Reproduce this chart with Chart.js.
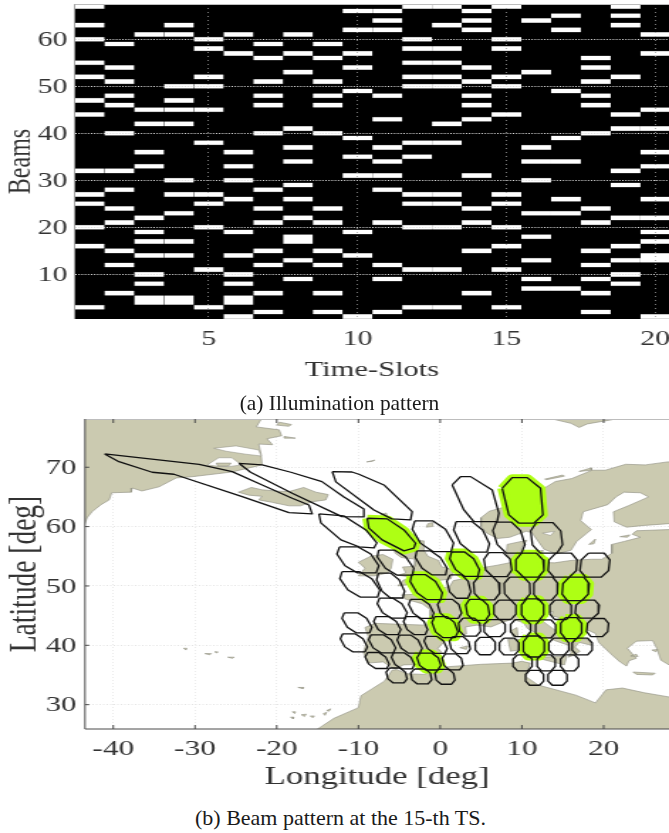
<!DOCTYPE html>
<html>
<head>
<meta charset="utf-8">
<title>Illumination and beam pattern</title>
<script src="https://cdn.jsdelivr.net/npm/chart.js@4/dist/chart.umd.min.js"></script>
<style>
  html, body { margin: 0; padding: 0; background: #fff; }
  body { position: relative; width: 669px; height: 833px; overflow: hidden; }
  canvas { position: absolute; left: 0; transform-origin: 0 0; transform: scale(1.4204, 1); filter: blur(0.3px); }
  #chartA { top: 0; }
  #chartB { top: 400px; }
  .caption { position: absolute; width: 669px; text-align: center; color: #1a1a1a;
             font-family: "Liberation Serif", serif; }
  #capA { top: 391px; left: 5px; font-size: 21.4px; }
  #capB { top: 805px; left: 6px; font-size: 22px; }
</style>
</head>
<body>
<canvas id="chartA" width="471" height="385"></canvas>
<canvas id="chartB" width="471" height="392"></canvas>
<div class="caption" id="capA">(a) Illumination pattern</div>
<div class="caption" id="capB">(b) Beam pattern at the 15-th TS.</div>
<script>
// ---- panel (a): beams lit in each time slot ----
var slot1 = [67, 63, 60, 55, 52, 47, 44, 32, 27, 25, 20, 16, 3];
var slot2 = [59, 54, 51, 48, 46, 40, 32, 28, 24, 21, 15, 12, 6];
var slot3 = [61, 45, 42, 36, 33, 22, 19, 17, 14, 10, 8, 5, 4];
var slot4 = [63, 61, 50, 47, 45, 42, 30, 27, 23, 17, 14, 5, 4];
var slot5 = [60, 58, 52, 50, 45, 38, 27, 25, 20, 11, 3];
var slot6 = [61, 57, 36, 33, 30, 26, 19, 14, 10, 8, 5, 4, 1];
var slot7 = [59, 56, 51, 48, 46, 40, 28, 24, 21, 15, 12, 6, 2];
var slot8 = [61, 57, 53, 41, 37, 34, 29, 26, 22, 18, 17, 13, 9];
var slot9 = [59, 56, 51, 48, 46, 40, 24, 21, 15, 12, 6, 2];
var slot10 = [66, 62, 57, 54, 49, 39, 35, 31, 19, 14, 1];
var slot11 = [66, 64, 62, 48, 43, 37, 34, 31, 28, 21, 12, 9, 2];
var slot12 = [67, 60, 58, 55, 52, 50, 38, 35, 27, 25, 20, 11, 3];
var slot13 = [67, 63, 58, 55, 52, 50, 42, 38, 27, 25, 20, 11, 3];
var slot14 = [66, 64, 62, 54, 51, 48, 46, 43, 31, 24, 21, 15, 6];
var slot15 = [67, 60, 58, 52, 50, 44, 27, 25, 20, 16, 11, 3];
var slot16 = [64, 53, 37, 34, 30, 23, 18, 13, 9, 7];
var slot17 = [65, 62, 49, 39, 34, 26, 23, 7];
var slot18 = [56, 54, 51, 48, 46, 40, 24, 21, 15, 12, 9, 6, 2];
var slot19 = [67, 65, 63, 52, 44, 41, 32, 29, 22, 16, 13, 10, 8];
var slot20 = [61, 57, 45, 41, 36, 33, 26, 22, 19, 17, 14, 13, 1];
var slots = [slot1, slot2, slot3, slot4, slot5, slot6, slot7, slot8, slot9, slot10,
             slot11, slot12, slot13, slot14, slot15, slot16, slot17, slot18, slot19, slot20];
var slotTicks = [5, 10, 15, 20];
var beamTicks = [10, 20, 30, 40, 50, 60];

// ---- panel (b): coast lines as [lon, lat] ----
var greenland = [[-44.5, 79.6], [-21.9, 79.6], [-21.9, 78.1], [-22.5, 76.8], [-19.7, 76.3], [-19.4, 75.3], [-21.2, 74.8],
  [-20.5, 73.8], [-22.2, 73.9], [-21.9, 72.1], [-21.8, 70.4], [-25.5, 69.2], [-30.4, 68.4], [-32.3, 68.2], [-34.4, 66.7],
  [-36.5, 66], [-37.7, 66.5], [-37.8, 65.8], [-40.2, 65.7], [-40.5, 64.5], [-41.5, 63.7], [-42.6, 62.5], [-43.2, 61.5],
  [-43.6, 60], [-44.5, 59.4]];
var greenlandFjords = [
  [[-27.7, 73.2], [-25, 73.6], [-22.2, 72.9], [-21.9, 71.9], [-23.8, 72.2], [-26.2, 72.7]],
  [[-28.5, 70.4], [-27.1, 71.6], [-25.5, 71.6], [-24.3, 70.4], [-25.9, 70.1], [-27.4, 70.2]]
];
var iceland = [[-24.7, 65.8], [-23.1, 66.6], [-21.8, 66.2], [-20.1, 66], [-18.5, 65.9], [-16.7, 66.6], [-15.2, 65.8],
  [-13.7, 65.4], [-14, 64.5], [-15.6, 64.2], [-17.1, 63.5], [-18.5, 63.5], [-20.6, 64.1], [-22.2, 64.5], [-21.8, 65.1], [-23.4, 65.3]];
var ireland = [[-10, 54], [-8.5, 55], [-7, 55.3], [-5.8, 54.5], [-6, 53], [-6.4, 52.2], [-8, 51.7], [-10, 51.7], [-9.2, 53]];
var britain = [[-5.2, 50], [-3.5, 50.3], [1.3, 51.2], [1.7, 52.7], [0.2, 53.2], [-0.2, 54.3], [-1.5, 55], [-2, 56], [-2, 57.6],
  [-3.8, 57.7], [-3, 58.6], [-5, 58.6], [-6, 57], [-5.5, 55.5], [-4.8, 54.8], [-3, 54.5], [-3.1, 53.3], [-4.6, 53.2],
  [-4.2, 52.2], [-5.2, 51.8], [-3, 51.4], [-4.5, 51]];
var eurasia = [[27.8, 70.9], [25.1, 70.4], [22.7, 70.5], [20.2, 69.5], [18.6, 69.5], [16.1, 68.1], [14.1, 67.6], [13, 66.7],
  [11, 65], [9, 63.7], [6, 62.6], [5, 61.5], [5, 60], [5.7, 58.9], [7, 58], [8.5, 58.2], [10.5, 59.2], [11.2, 59], [12, 57.5],
  [12.7, 56.2], [14.2, 55.4], [16, 56], [16.7, 57.5], [18.5, 59.5], [17.2, 61], [17.5, 62.5], [20.5, 63.7], [21.5, 65],
  [22.5, 65.8], [24.5, 65.7], [25.5, 65], [23, 63.5], [21.2, 62.5], [21.3, 60.8], [22.8, 59.9], [25, 60.2], [28, 60.5], [30, 60],
  [28, 59.5], [24, 59.3], [23.5, 58.7], [24.5, 58.2], [22.5, 57.5], [21, 57], [21, 55.5], [19.8, 54.5], [18.5, 54.5], [16, 54.3],
  [14, 53.9], [11, 54], [9.8, 54.8], [10, 56.5], [10.6, 57.7], [8.2, 57], [8.1, 55.5], [8.8, 54], [7, 53.5], [4.8, 53],
  [3.5, 51.4], [1.6, 50.9], [1.2, 50], [0, 49.5], [-1.3, 49.5], [-1.6, 49.6], [-1.5, 48.7], [-4.7, 48.5], [-4.3, 47.8],
  [-2.2, 47], [-1.2, 46], [-1.2, 44.5], [-1.7, 43.4], [-4, 43.5], [-8, 43.7], [-9.2, 43], [-8.8, 41.5], [-9.4, 38.8],
  [-8.9, 37], [-7, 37.2], [-6.2, 36.5], [-5.5, 36], [-4.5, 36.7], [-2.2, 36.8], [-0.5, 38], [0.2, 38.8], [-0.3, 39.5],
  [0.8, 41], [3.2, 41.9], [3.1, 43.1], [4.5, 43.4], [6.2, 43.1], [7.5, 43.8], [8.8, 44.4], [10.2, 43.8], [10.7, 42.8],
  [12.2, 41.8], [14, 40.8], [15.7, 40], [16, 38.8], [15.7, 38], [16.5, 38.4], [17.1, 39], [16.5, 39.7], [17, 40.5], [18.5, 40],
  [18.2, 40.9], [16, 41.5], [16.1, 41.9], [14, 42.6], [12.4, 44.2], [12.4, 45.3], [13.8, 45.7], [13.6, 45], [15, 44.5],
  [16.5, 43.5], [19, 42], [19.4, 40.5], [21, 38.4], [22, 37.2], [22.8, 36.5], [23.1, 37.4], [24, 37.8], [22.9, 39.5],
  [24, 40.7], [26, 40.8], [26.5, 39.5], [27, 37.5], [28, 36.7], [30, 36.3], [32, 36], [32, 71]];
var africa = [[-16, 25], [-14.9, 26], [-13, 27.7], [-10, 29.5], [-9.7, 31.5], [-6.8, 34], [-5.9, 35.8], [-5.3, 35.9], [-4, 35.2],
  [-2, 35.1], [1, 36.4], [5, 36.8], [8.8, 37], [10, 37.3], [11, 37], [10.5, 34.7], [12, 33.3], [16.6, 31.6], [19, 30.3],
  [20.3, 32.5], [22.3, 32.8], [25, 32], [28, 31.3], [32, 31], [32, 25]];
var islands = [
  [[12.5, 38], [15.5, 38.2], [15.2, 36.7], [12.6, 37.6]],
  [[8.3, 41], [9.7, 41], [9.6, 39.2], [8.6, 39]],
  [[8.7, 42.5], [9.4, 43], [9.5, 41.5], [8.9, 41.5]],
  [[2.4, 39.6], [3.4, 39.9], [3.2, 39.3]],
  [[23.6, 35.5], [26.3, 35.3], [26, 35], [24, 35.1]],
  [[25.9, 39.2], [26.6, 39.3], [26.4, 38.9]],
  [[24, 38.5], [23.3, 38.2], [24.2, 38.1]],
  [[18.2, 57], [19, 57.9], [18.8, 57.1]],
  [[22, 58.3], [23.2, 58.6], [22.9, 58.2]],
  [[11, 55.7], [12.6, 56], [12.4, 55.2], [11.3, 55.1]],
  [[12.8, 68], [15, 68.7], [15.2, 68.5], [13, 67.9]],
  [[17, 69.3], [18.5, 69.9], [18.5, 69.5]],
  [[13.5, 78.2], [16, 77.4], [17, 76.7], [18, 77.3], [21, 78], [22, 78.5], [13.5, 78.5]],
  [[21, 78.3], [27, 78.3], [28, 79], [21, 79]],
  [[-1.7, 59.9], [-1, 60], [-0.9, 60.7], [-1.5, 60.5]],
  [[-7.3, 62], [-6.6, 62.3], [-6.5, 61.8]],
  [[-9, 70.9], [-8, 71.2], [-8.3, 71]],
  [[-19.7, 77.6], [-18.2, 77.2], [-18.5, 76.9], [-20, 77.1]],
  [[-19.1, 75.2], [-17.7, 74.9], [-19, 74.9]],
  [[-27.4, 70.7], [-25.6, 70.7], [-25.9, 70.2], [-27.2, 70.2]],
  [[-31.4, 39.5], [-31, 39.5], [-31.1, 39.2]],
  [[-28.8, 38.6], [-28, 38.6], [-28.2, 38.4]],
  [[-27.6, 38.9], [-27.2, 38.9], [-27.3, 38.7]],
  [[-26, 38], [-25.2, 38], [-25.4, 37.8]],
  [[-17.4, 32.9], [-16.7, 32.9], [-16.8, 32.7]],
  [[-18.1, 28.8], [-17.7, 28.8], [-17.8, 28.5]],
  [[-18.3, 27.9], [-17.9, 27.9], [-18, 27.6]],
  [[-17, 28.3], [-16.4, 28.4], [-16.6, 28]],
  [[-15.9, 28.1], [-15.4, 28.1], [-15.6, 27.8]],
  [[-14.3, 28.5], [-13.9, 28.7], [-14.1, 28.2]],
  [[-13.9, 29], [-13.4, 29.3], [-13.6, 28.9]]
];
var lakes = [[[12.5, 58.9], [14, 59.2], [13.5, 58.5]]];

// long footprints at the edge of coverage, drawn from their own outline
var outlineLong1 = [[-41.06, 72.24], [-29.5, 70.5], [-25.45, 69.26], [-21.78, 67.02], [-18.11, 64.78], [-16.07, 63.65], [-15.66, 62.14],
  [-18.51, 62.36], [-24.23, 65.05], [-32.58, 68.82], [-35.24, 69.16], [-39.31, 70.94]];
var outlineLong2 = [[-24.63, 70.67], [-21.78, 70.39], [-18.27, 69.16], [-14.47, 67.58], [-11.78, 65], [-9.34, 62.98], [-9.34, 61.63],
  [-12.03, 61.68], [-18.11, 65.62], [-23.2, 69.16]];
var outlineLong3 = [[-14.84, 62.14], [-11.78, 61.8], [-9.09, 59.44], [-7.75, 57.26], [-8.11, 56.4], [-9.95, 56.6], [-12.15, 57.76], [-14.6, 60.62]];
var outlineLong4 = [[-13.21, 69.26], [-10.8, 69.2], [-9.95, 68.82], [-6.89, 67.02], [-3.43, 62.53], [-3.62, 61.13], [-5.91, 61.3], [-8.11, 62.81], [-12.76, 67.53]];
var outlineLong5 = [[1.47, 67.02], [2.5, 68.42], [3.72, 68.42], [6.36, 66.18], [7.18, 62.26], [6.97, 60.84], [4.12, 60.84], [2.9, 62.81]];
var outlineLit1 = [[7.59, 66.46], [8.81, 68.25], [10.64, 68.25], [12.28, 66.46], [12.57, 61.97], [11.46, 60.57], [9.63, 60.57], [8.4, 61.97]];
var outlineLit2 = [[-8.93, 61.41], [-6.48, 61.3], [-4.44, 59.44], [-3.01, 57.2], [-3.22, 56.36], [-4.44, 55.91], [-7.1, 57.76], [-8.72, 59.73]];

// regular footprints: centre, half extents, lean of the top towards the west, lit at the 15-th TS
var beamLon = [-0.89, 3.84, 8.41, 13.02, -10.07, -5.46, -1.1, 2.99, 7.06, 10.98, 14.98, 18.93,
  -9.83, -6.07, -1.71, 2.29, 5.68, 9.42, 12.9, 16.57, -5.87, -2.32, 1.15, 4.58, 7.92, 11.31, 14.73, 17.99,
  -10.19, -6.48, -3.01, 0.58, 3.6, 6.66, 9.84, 12.9, 16.03, 19.26, -10.56, -7.1, -3.74, -0.56, 2.41, 5.51, 8.44, 11.46, 14.52, 17.37,
  -7.71, -4.56, -1.38, 1.52, 10.08, 12.97, 15.83, -5.33, -2.32, 0.58, 11.55, 14.36];
var beamLat = [58.38, 58.27, 58.15, 58.1, 54.39, 53.94, 53.89, 53.67, 53.6, 53.5, 53.5, 53.5,
  50.27, 50.07, 49.8, 49.9, 49.63, 49.56, 49.56, 49.51, 46.26, 46.15, 46.15, 45.98, 45.98, 45.98, 45.98, 46.09,
  43.79, 43.33, 43.33, 43.06, 43.06, 42.9, 42.9, 42.78, 42.9, 43, 40.42, 40.25, 40.2, 40.08, 40.03, 39.87, 39.8, 39.8, 39.8, 39.8,
  37.44, 37.39, 37.27, 37.22, 37.05, 37.05, 37.05, 34.92, 34.75, 34.7, 34.53, 34.53];
var beamHalfLon = [2.03, 1.77, 1.69, 1.84, 2.07, 1.74, 1.53, 1.46, 1.6, 1.66, 1.72, 1.75,
  1.95, 1.38, 1.55, 1.3, 1.54, 1.56, 1.46, 1.6, 1.5, 1.26, 1.3, 1.35, 1.35, 1.35, 1.31, 1.42,
  1.5, 1.38, 1.25, 1.37, 1.29, 1.28, 1.22, 1.22, 1.28, 1.29, 1.38, 1.38, 1.28, 1.19, 1.17, 1.22, 1.19, 1.28, 1.22, 1.22,
  1.25, 1.19, 1.3, 1.17, 1.16, 1.1, 1.1, 1.17, 1.2, 1.14, 1.1, 1.16];
var beamHalfLat = [2.58, 2.58, 2.61, 2.58, 2.19, 2.1, 2.02, 2.05, 2.02, 2.02, 2.02, 2.02,
  2.14, 2.1, 2.1, 1.97, 1.97, 1.94, 1.94, 1.97, 1.68, 1.6, 1.6, 1.77, 1.63, 1.85, 1.63, 1.52,
  1.68, 1.52, 1.52, 1.77, 1.52, 1.43, 1.43, 1.52, 1.77, 1.52, 1.52, 1.52, 1.52, 1.43, 1.43, 1.46, 1.4, 1.77, 1.4, 1.4,
  1.35, 1.35, 1.43, 1.35, 1.35, 1.35, 1.35, 1.26, 1.26, 1.26, 1.26, 1.26];
var beamLean = [1.1, 0.92, 0.61, 0.24, 1.1, 1.1, 0.92, 0.8, 0.24, 0.12, -0.12, -0.18,
  1.1, 0.73, 0.92, 0.37, 0.12, 0.06, -0.06, -0.12, 0.73, 0.61, 0.37, 0.24, 0, 0, 0, -0.12,
  0.73, 0.61, 0.49, 0.49, 0.12, 0, 0, 0, 0, -0.12, 0.61, 0.61, 0.55, 0.49, 0.24, 0, 0, 0, 0, 0,
  0.49, 0.49, 0.37, 0.24, 0, 0, 0, 0.24, 0.18, 0.18, 0, 0];
var beamLit = [0, 0, 0, 0, 0, 0, 0, 1, 0, 1, 0, 0,
  0, 0, 1, 0, 0, 0, 0, 1, 0, 0, 0, 1, 0, 1, 0, 0,
  0, 0, 0, 1, 0, 0, 0, 0, 1, 0, 0, 0, 0, 0, 0, 0, 0, 1, 0, 0,
  0, 0, 1, 0, 0, 0, 0, 0, 0, 0, 0, 0];
var beamCorners = [[-0.55, 1], [0.55, 1], [1, 0.45], [1, -0.45], [0.55, -1], [-0.55, -1], [-1, -0.45], [-1, 0.45]];
var lonTicks = [-40, -30, -20, -10, 0, 10, 20];
var latTicks = [30, 40, 50, 60, 70];

var INK = '#333333', LAND = '#cbcab0', LIT = '#aeff14', SERIF = '"Liberation Serif", serif';

Chart.defaults.animation = false;
Chart.defaults.responsive = false;

function fixedTicks(values) {
  return function (scale) {
    scale.ticks = values.map(function (v) { return { value: v }; });
  };
}
// plot area has to land on the reference, so no room is reserved for overhanging labels
function fixedSize(prop, size) {
  return function (scale) {
    scale[prop] = size;
    scale.paddingTop = scale.paddingBottom = scale.paddingLeft = scale.paddingRight = 0;
  };
}

// panel frame: black ground for (a), light top edge, axis edges and short ticks pointing inwards for (b)
var framePlugin = {
  id: 'frame',
  beforeDatasetsDraw: function (chart, args, opts) {
    if (!opts.ground) return;
    var a = chart.chartArea;
    chart.ctx.fillStyle = opts.ground;
    chart.ctx.fillRect(a.left, a.top, a.right - a.left, a.bottom - a.top);
  },
  afterDraw: function (chart, args, opts) {
    var a = chart.chartArea, c = chart.ctx;
    c.save();
    c.strokeStyle = '#bdbdbd';
    c.lineWidth = 1;
    c.beginPath();
    c.moveTo(a.left, a.top + 0.5);
    c.lineTo(a.right, a.top + 0.5);
    c.stroke();
    if (opts.marks) {
      c.strokeStyle = '#4a4a4a';
      c.beginPath();
      c.moveTo(a.left, a.top);
      c.lineTo(a.left, a.bottom);
      c.lineTo(a.right, a.bottom);
      chart.scales.x.ticks.forEach(function (t) {
        var px = chart.scales.x.getPixelForValue(t.value);
        c.moveTo(px, a.bottom); c.lineTo(px, a.bottom - 4);
        c.moveTo(px, a.top); c.lineTo(px, a.top + 4);
      });
      chart.scales.y.ticks.forEach(function (t) {
        var py = chart.scales.y.getPixelForValue(t.value);
        c.moveTo(a.left, py); c.lineTo(a.left + 3, py);
      });
      c.stroke();
    }
    c.restore();
  }
};

// ---- (a) ----
// neighbouring beams in a slot join into one block
var litCells = [];
slots.forEach(function (beams, i) {
  var sorted = beams.slice().sort(function (p, q) { return p - q; });
  sorted.forEach(function (b, k) {
    if (k > 0 && sorted[k - 1] === b - 1) {
      litCells[litCells.length - 1].y[1] = b + 0.5;
    } else {
      litCells.push({ x: i + 1, y: [b - 0.5, b + 0.5] });
    }
  });
});

new Chart(document.getElementById('chartA'), {
  type: 'bar',
  data: { datasets: [{ data: litCells, backgroundColor: '#ffffff', borderColor: '#8a8a8a',
                       borderWidth: { top: 0.5, bottom: 0.5, left: 0, right: 0 },
                       borderSkipped: false, inflateAmount: 0.2, categoryPercentage: 1, barPercentage: 1 }] },
  options: {
    layout: { padding: { top: 4 } },
    plugins: { legend: { display: false }, tooltip: { enabled: false }, frame: { ground: '#000000' } },
    scales: {
      x: {
        type: 'linear', min: 0.5, max: 20.46, offset: false,
        afterBuildTicks: fixedTicks(slotTicks),
        afterFit: fixedSize('height', 66),
        grid: { offset: false, z: 1, drawTicks: false, color: '#9a9a9a', lineWidth: 0.8 },
        border: { display: false, dash: [1, 3] },
        ticks: { autoSkip: false, maxRotation: 0, color: INK, padding: 8, font: { family: SERIF, size: 21 },
                 callback: function (v) { return String(v); } },
        title: { display: true, text: 'Time-Slots', color: INK, padding: { top: 0, bottom: 2 },
                 font: { family: SERIF, size: 21.5 } }
      },
      y: {
        type: 'linear', min: 0.5, max: 67.5,
        afterBuildTicks: fixedTicks(beamTicks),
        afterFit: fixedSize('width', 52.6),
        grid: { z: 1, drawTicks: false, color: '#dedede', lineWidth: 1 },
        border: { display: false, dash: [1, 1.2] },
        ticks: { autoSkip: false, color: INK, padding: 5, labelOffset: 1.5, font: { family: SERIF, size: 21 },
                 callback: function (v) { return String(v); } },
        title: { display: true, text: 'Beams', color: INK, padding: 0, font: { family: SERIF, size: 24 } }
      }
    }
  },
  plugins: [framePlugin]
});

// ---- (b) ----
function toPoints(outline) {
  var pts = outline.map(function (p) { return { x: p[0], y: p[1] }; });
  pts.push(pts[0]);
  return pts;
}
function area(outline, fill, line, width) {
  return { data: toPoints(outline), showLine: true, fill: fill ? 'shape' : false, tension: 0,
           backgroundColor: fill || 'transparent', borderColor: line, borderWidth: width,
           borderJoinStyle: 'round', pointRadius: 0 };
}
function beamOutline(i) {
  return beamCorners.map(function (c) {
    return [beamLon[i] + beamHalfLon[i] * c[0] - beamLean[i] * c[1], beamLat[i] + beamHalfLat[i] * c[1]];
  });
}

var coastLine = '#8d8d80';
var layers = [];
[greenland, eurasia, africa, iceland, ireland, britain].forEach(function (o) { layers.push(area(o, LAND, coastLine, 0.6)); });
greenlandFjords.concat(lakes).forEach(function (o) { layers.push(area(o, '#ffffff', coastLine, 0.5)); });
islands.forEach(function (o) { layers.push(area(o, LAND, coastLine, 0.6)); });

// lit footprints first, so that every black outline stays on top
var litOutlines = [outlineLit1, outlineLit2];
beamLon.forEach(function (v, i) { if (beamLit[i]) litOutlines.push(beamOutline(i)); });
litOutlines.forEach(function (o) { layers.push(area(o, LIT, LIT, 7)); });

[outlineLong1, outlineLong2, outlineLong3, outlineLong4, outlineLong5, outlineLit1, outlineLit2].forEach(function (o) {
  layers.push(area(o, null, '#111111', 1.3));
});
beamLon.forEach(function (v, i) { layers.push(area(beamOutline(i), null, '#111111', 1.3)); });

// the library paints the first dataset last
layers.reverse();

new Chart(document.getElementById('chartB'), {
  type: 'scatter',
  data: { datasets: layers },
  options: {
    layout: { padding: { top: 19 } },
    plugins: { legend: { display: false }, tooltip: { enabled: false }, frame: { marks: true } },
    scales: {
      x: {
        type: 'linear', min: -43.46, max: 28,
        afterBuildTicks: fixedTicks(lonTicks),
        afterFit: fixedSize('height', 63),
        grid: { drawTicks: false, color: '#e4e4e4', lineWidth: 0.8 },
        border: { display: false, dash: [1, 2] },
        ticks: { autoSkip: false, maxRotation: 0, color: INK, padding: 7, font: { family: SERIF, size: 22 },
                 callback: function (v) { return String(v); } },
        title: { display: true, text: 'Longitude [deg]', color: INK, padding: { top: 0, bottom: 0 },
                 font: { family: SERIF, size: 24.5 } }
      },
      y: {
        type: 'linear', min: 25.9, max: 78.13,
        afterBuildTicks: fixedTicks(latTicks),
        afterFit: fixedSize('width', 59.84),
        grid: { drawTicks: false, color: '#e4e4e4', lineWidth: 1 },
        border: { display: false, dash: [1, 1.5] },
        ticks: { autoSkip: false, color: INK, padding: 6, labelOffset: 1, font: { family: SERIF, size: 21.5 },
                 callback: function (v) { return String(v); } },
        title: { display: true, text: 'Latitude [deg]', color: INK, padding: 1, font: { family: SERIF, size: 27.5 } }
      }
    }
  },
  plugins: [framePlugin]
});
</script>
</body>
</html>
